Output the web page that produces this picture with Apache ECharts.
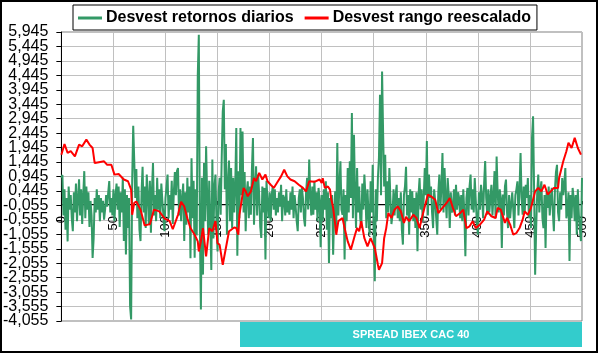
<!DOCTYPE html>
<html>
<head>
<meta charset="utf-8">
<script src="https://cdn.jsdelivr.net/npm/echarts@6/dist/echarts.min.js"></script>
<style>
  html, body { margin: 0; padding: 0; background: #ffffff; }
  #spreadChart { width: 598px; height: 353px; }
</style>
</head>
<body>
<div id="spreadChart"></div>
<script>
// Desvest retornos diarios, one value per day 0..500
var retornosDiarios = [
  0.9, 1.0, -0.4, 0.5, -0.9, 0.2, -1.3, 0.6, -0.2, 0.3,
  -0.5, -0.95, 0.4, -0.3, 0.7, -0.6, 0.2, 0.85, -0.4, 0.5,
  -0.7, 0.3, 1.13, -0.5, 0.6, -0.2, 0.4, -0.8, 0.1, -0.4,
  -1.87, -1.2, 0.2, -0.3, 0.5, -0.2, 0.3, -0.6, 0.2, -0.3,
  0.1, -0.55, -0.2, 0.3, -0.1, 0.4, 0.79, -0.3, 0.2, -0.4,
  0.5, -0.6, 0.3, 0.7, -0.2, 0.6, -0.8, 0.4, -0.3, 0.9,
  -1.29, 0.5, -1.75, 0.3, -0.84, 0.2, -3.55, -4.0, 0.8, 2.7,
  1.5, 0.2, 1.2, -0.5, 0.6, -0.9, -1.29, 0.4, 1.28, -0.3,
  0.6, -0.84, 1.01, 0.3, -0.7, 0.8, -1.0, 0.5, 1.41, -0.4,
  0.3, -0.6, 0.9, -0.2, 0.5, -0.5, 0.7, 0.1, -0.4, -0.95,
  0.2, 0.6, 1.01, -0.5, 0.3, -0.2, 0.8, -0.7, 0.4, 1.1,
  0.3, 1.13, 1.24, -0.4, 0.5, -0.6, 0.2, 0.7, -1.29, 0.4,
  -0.72, 0.9, -0.3, 0.6, -1.88, 1.58, -0.5, 0.8, -1.87, 0.5,
  -1.1, 4.45, 5.85, -0.8, -3.66, 0.9, -2.45, 1.41, -0.6, 1.99,
  0.3, -1.07, 0.8, -0.5, -2.29, 1.53, -1.2, 0.6, 1.01, -0.7,
  -1.65, 0.4, 0.9, -0.38, 1.6, 3.2, 3.6, 0.5, 2.07, -1.07,
  0.7, 1.5, -0.6, 1.24, -0.84, 0.9, -0.3, 0.66, 2.62, -1.8,
  1.13, -0.5, 2.62, 0.3, 2.5, -0.3, 1.1, -0.95, 0.4, 0.78,
  -0.5, 0.6, -0.38, 1.2, 2.28, -0.72, 0.5, 1.3, -0.4, 1.01,
  0.3, -0.8, -1.18, 0.6, -0.3, 0.55, -1.93, 0.8, 0.08, -0.5,
  0.4, -0.6, 0.3, 0.6, -0.2, 0.5, -0.4, 0.2, -0.3, 0.4,
  -0.1, 0.66, -0.6, 0.3, 0.2, -0.4, 0.5, -0.3, 0.1, -0.38,
  0.4, -0.2, 0.6, -0.5, 0.3, -0.1, -0.6, -0.95, 0.2, 0.5,
  -0.3, 0.55, 0.2, -0.5, -0.78, 0.4, 0.9, -0.2, 1.53, 0.3,
  -0.4, 0.6, -0.38, 0.8, -0.2, 0.4, -0.6, 0.55, 0.1, -1.5,
  0.3, -0.6, 0.5, -0.2, 0.78, -0.9, 0.4, -2.05, 0.2, -0.5,
  0.3, -1.76, -0.3, 0.43, -0.8, 2.1, -0.4, 0.6, 1.47, -0.2,
  -0.38, 0.5, -1.93, 0.3, -0.6, 1.24, -0.3, 1.47, 0.2, 3.14,
  -0.5, 2.39, 0.4, -0.84, 1.24, -0.3, 0.6, -0.5, -0.84, 0.7,
  -0.2, 1.01, 0.3, -0.84, 0.5, -0.4, -1.07, 0.78, -0.3, 1.35,
  -1.2, -2.68, 0.5, -0.6, 0.89, 1.6, 3.77, 0.3, 4.58, 2.45,
  0.6, 1.7, -0.5, 0.78, -0.3, 1.24, 0.2, -0.7, -0.38, 0.5,
  -0.4, 0.3, 0.66, -0.5, 0.2, -0.6, 0.4, -0.9, -1.41, 0.3,
  0.6, 1.28, -0.4, 0.3, -1.07, 0.5, -0.3, 0.43, -0.6, 0.2,
  -0.84, 0.4, -1.64, 0.3, 0.89, -0.2, 0.5, -0.6, 0.2, 1.24,
  0.3, 2.17, -0.4, 1.01, 0.2, 0.6, -0.3, -0.84, 0.5, 0.1,
  -0.5, -1.07, 0.4, 1.01, -0.2, 0.6, 1.76, -0.3, 1.24, 0.2,
  -0.5, 0.89, 0.3, -0.84, 0.4, -0.3, -0.14, 0.5, -0.4, 0.66,
  -0.2, 0.4, 0.2, -0.5, 0.3, -0.6, 0.5, -0.3, -1.81, 0.2,
  0.55, -0.4, 0.6, 1.01, -0.2, 0.5, -0.3, 0.89, 0.1, -0.6,
  -1.07, 0.4, -0.2, 0.66, 0.3, -0.5, 0.7, 1.48, 0.2, -0.38,
  0.5, -0.3, 0.2, 0.66, -0.4, 0.3, 1.13, -0.5, 1.64, 0.4,
  -0.3, 0.5, 0.2, -1.53, 0.32, -0.4, 0.6, 0.84, -0.3, -0.84,
  0.3, -0.5, -0.03, 0.4, -0.2, -0.84, 0.3, 0.5, 0.78, -0.4,
  0.5, 1.76, 0.2, -0.38, 0.6, -0.3, 0.66, 0.2, 0.89, -0.5,
  0.3, -0.84, 2.28, 3.03, 0.5, -2.45, -0.84, 0.4, 1.01, -0.3,
  0.5, 0.78, -0.5, -0.84, 0.3, -1.53, 0.4, -0.14, 0.6, -0.4,
  0.2, 0.55, -0.3, -0.95, 0.5, 1.1, 1.35, -0.3, -0.6, 0.4,
  -0.2, 0.89, 0.3, 0.7, 1.24, -0.5, -0.26, 0.4, -1.98, 0.3,
  -0.5, 0.55, 0.2, -0.6, 0.3, -1.07, 0.5, -0.38, -0.9, -1.29,
  0.89
];

// Desvest rango reescalado, read at these days
var rangoDias = [
  0, 3, 6, 9, 13, 17, 20, 24, 27, 30, 32, 36, 41, 44, 48, 51, 55, 60, 64, 67,
  68, 70, 72, 76, 80, 83, 85, 89, 94, 99, 104, 107, 112, 115, 118, 121, 124, 128, 131, 132,
  134, 136, 139, 142, 145, 148, 150, 152, 155, 156, 158, 161, 163, 166, 168, 170, 171, 173, 175, 177,
  179, 182, 185, 187, 190, 193, 196, 198, 201, 204, 208, 211, 214, 217, 220, 224, 228, 232, 235, 238,
  243, 248, 250, 251, 253, 256, 258, 259, 261, 263, 264, 266, 270, 272, 275, 278, 282, 284, 286, 288,
  291, 294, 297, 301, 304, 305, 308, 310, 312, 314, 317, 320, 323, 326, 329, 331, 334, 338, 341, 344,
  347, 352, 355, 359, 362, 366, 370, 373, 376, 379, 383, 386, 389, 392, 395, 398, 402, 406, 409, 413,
  417, 419, 422, 426, 428, 431, 434, 437, 440, 443, 445, 448, 451, 453, 455, 458, 461, 464, 467, 470,
  473, 477, 478, 482, 485, 487, 490, 493, 496, 499
];
var rangoReescalado = [
  1.70, 2.07, 1.76, 1.82, 1.64, 2.05, 1.99, 2.22, 2.05, 1.93, 1.41, 1.44, 1.47, 1.35, 1.35, 1.01, 1.03, 0.84, 0.78, 0.49,
  -0.38, 0.03, 0.08, -0.20, -0.75, -0.72, -0.71, -0.20, -0.26, -0.50, -0.60, -0.88, -0.38, 0.07, -0.09, -0.50, -0.84, -1.07, -1.30, -1.65,
  -1.30, -0.84, -1.82, -0.84, -0.95, -0.60, -1.36, -1.42, -2.11, -2.13, -1.53, -0.95, -0.90, -0.82, -0.84, -1.07, -0.38, 0.08, 0.55, 0.43,
  0.26, 0.43, 0.89, 0.78, 1.07, 0.84, 1.01, 0.78, 0.66, 0.55, 0.78, 0.95, 1.18, 0.95, 0.84, 0.78, 0.66, 0.55, 0.43, 0.78,
  0.76, 0.84, 0.72, 0.89, 0.55, 0.60, 0.49, 0.20, -0.14, -0.72, -1.07, -0.60, -0.49, -0.84, -1.30, -1.59, -1.07, -0.84, -0.95, -0.60,
  -1.19, -1.47, -1.19, -1.53, -2.11, -2.28, -2.05, -1.19, -0.84, -0.32, -0.49, -0.20, -0.09, -0.26, -0.66, -0.45, -0.60, -0.38, -0.49, -0.84,
  -0.38, 0.32, 0.26, 0.14, -0.32, -0.14, 0.03, 0.20, -0.14, -0.43, -0.32, -0.20, -0.84, -0.78, -0.60, -0.84, -0.72, -0.55, -0.26, -0.43,
  -0.49, -0.14, -0.20, -0.66, -0.49, -0.72, -1.07, -1.01, -0.84, -0.55, -0.26, -0.38, -0.14, 0.14, 0.43, 0.55, 0.43, 0.66, 0.32, 0.43,
  0.55, 0.55, 0.89, 1.47, 1.82, 2.11, 1.93, 2.28, 1.93, 1.70
];

var seriesNames = ["Desvest retornos diarios", "Desvest rango reescalado"];
var chartTitle = "SPREAD IBEX CAC 40";
var yMin = -4.055;
var yMax = 5.945;
var yStep = 0.5;

var fontFam = "'Liberation Sans', Arial, sans-serif";
var gridTop = 32;
var gridBottom = 32;

var myChart = echarts.init(document.getElementById("spreadChart"));

// the x axis sits on y = 0; move it up from the bottom of the grid
var plotH = 353 - gridTop - gridBottom;
var zeroOffset = -Math.round(plotH * (0 - yMin) / (yMax - yMin));

function fmtComma(v) {
  return v.toFixed(3).replace(".", ",");
}
function tickIndex(v) {
  return Math.round((v - yMin) / yStep);
}

// labels are packed tighter than the font, so they are split over two
// overlapping axes (even ticks / odd ticks) to keep every one of them
function yAxisFor(even) {
  return {
    type: "value",
    position: "left",
    min: yMin,
    max: yMax,
    interval: yStep,
    axisLine: { show: even, onZero: false, lineStyle: { color: "#000000", width: 1 } },
    axisTick: { show: even, length: 5, lineStyle: { color: "#000000" } },
    axisLabel: {
      margin: 13,
      fontSize: 16,
      color: "#000000",
      fontFamily: fontFam,
      showMinLabel: even,
      showMaxLabel: even,
      formatter: function (v) {
        return (tickIndex(v) % 2 === 0) === even ? fmtComma(v) : "";
      }
    },
    splitLine: { show: even, lineStyle: { color: "#c0c0c0", width: 1 } }
  };
}

var option = {
  animation: false,
  backgroundColor: "#ffffff",
  textStyle: { fontFamily: fontFam },
  legend: {
    left: 73,
    top: 5,
    padding: [5, 6, 4, 5],
    itemGap: 11,
    itemWidth: 24,
    itemHeight: 3,
    icon: "rect",
    backgroundColor: "#ffffff",
    borderColor: "#000000",
    borderWidth: 1,
    textStyle: { fontSize: 16, fontWeight: "bold", color: "#000000", fontFamily: fontFam, padding: [0, 0, 0, -1] },
    data: seriesNames
  },
  grid: {
    left: 60,
    right: 16,
    top: gridTop,
    bottom: gridBottom,
    show: true,
    borderColor: "#808080",
    borderWidth: 1
  },
  xAxis: {
    type: "value",
    min: 0,
    max: 500,
    interval: 50,
    offset: zeroOffset,
    axisLine: { onZero: false, lineStyle: { color: "#000000", width: 1 } },
    axisTick: { show: true, inside: true, length: 3, lineStyle: { color: "#000000" } },
    axisLabel: {
      rotate: 90,
      margin: 12,
      fontSize: 13,
      color: "#000000",
      fontFamily: fontFam,
      showMinLabel: true,
      showMaxLabel: true
    },
    splitLine: { show: true, lineStyle: { color: "#c0c0c0", width: 1 } }
  },
  yAxis: [yAxisFor(true), yAxisFor(false)],
  series: [
    {
      name: seriesNames[0],
      type: "line",
      yAxisIndex: 0,
      showSymbol: false,
      color: "#339966",
      lineStyle: { color: "#339966", width: 2 },
      data: retornosDiarios.map(function (v, i) { return [i, v]; })
    },
    {
      name: seriesNames[1],
      type: "line",
      yAxisIndex: 0,
      showSymbol: false,
      color: "#ff0000",
      lineStyle: { color: "#ff0000", width: 2 },
      data: rangoDias.map(function (d, i) { return [d, rangoReescalado[i]]; })
    }
  ],
  graphic: [
    {
      type: "rect",
      shape: { x: 240, y: 322, width: 342, height: 25 },
      style: { fill: "#33cccc" },
      z: 10
    },
    {
      type: "text",
      x: 411,
      y: 335,
      style: {
        text: chartTitle,
        fill: "#ffffff",
        font: "bold 11px " + fontFam,
        textAlign: "center",
        textVerticalAlign: "middle"
      },
      z: 11
    },
    {
      type: "rect",
      shape: { x: 1, y: 1, width: 596, height: 351 },
      style: { fill: null, stroke: "#000000", lineWidth: 2 },
      z: 12
    }
  ]
};

myChart.setOption(option);
</script>
</body>
</html>
